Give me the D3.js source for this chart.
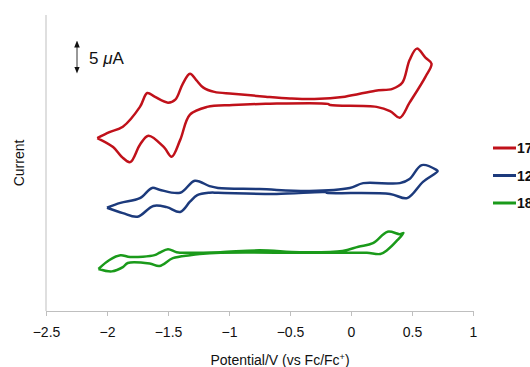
<!DOCTYPE html>
<html>
<head>
<meta charset="utf-8">
<script src="https://cdn.jsdelivr.net/npm/d3@7"></script>
<style>
  html, body { margin: 0; padding: 0; background: #fff; overflow: hidden; }
  svg { display: block; font-family: "Liberation Sans", Arial, sans-serif; }
</style>
</head>
<body>
<svg id="chart"></svg>
<script>
// potential (V vs Fc/Fc+) and current (uA, traces offset vertically)
const xTicks = [-2.5, -2, -1.5, -1, -0.5, 0, 0.5, 1];
const seriesNames = ["17", "12", "18"];
const seriesColors = ["#c0111a", "#1c3a7c", "#1a9a1a"];

const red = [
  [-2.08, 28.8], [-1.98, 29.8], [-1.87, 30.7], [-1.73, 34.0], [-1.67, 36.3],
  [-1.61, 35.7], [-1.5, 34.7], [-1.44, 35.2], [-1.38, 37.8], [-1.32, 39.5],
  [-1.27, 38.5], [-1.21, 37.2], [-1.12, 36.5], [-0.97, 36.2], [-0.7, 35.7],
  [-0.5, 35.4], [-0.3, 35.3], [-0.05, 35.7], [0.2, 36.7], [0.34, 37.0],
  [0.42, 38.0], [0.48, 41.8], [0.54, 43.7], [0.61, 42.2], [0.66, 41.2],
  [0.61, 39.0], [0.48, 34.7], [0.40, 32.2], [0.32, 33.3], [0.21, 34.0],
  [-0.17, 34.3], [-0.19, 34.5], [-0.7, 34.5], [-0.97, 34.3], [-1.18, 34.0],
  [-1.32, 32.7], [-1.40, 28.5], [-1.47, 25.7], [-1.53, 27.2], [-1.66, 29.2],
  [-1.73, 27.7], [-1.81, 24.8], [-1.88, 25.7], [-1.95, 27.3], [-2.08, 28.8]
];

const blue = [
  [-2.0, 17.2], [-1.89, 18.0], [-1.73, 18.8], [-1.63, 20.5], [-1.57, 20.2],
  [-1.4, 19.7], [-1.28, 21.7], [-1.16, 20.8], [-1.09, 20.5], [-0.75, 20.3],
  [-0.34, 20.0], [-0.01, 20.5], [0.1, 21.3], [0.4, 21.3], [0.48, 22.0],
  [0.58, 24.3], [0.7, 23.5], [0.71, 23.3],
  [0.59, 21.5], [0.46, 18.8], [0.32, 19.5], [-0.2, 19.7], [-0.21, 19.8],
  [-0.61, 19.5], [-1.09, 19.7], [-1.16, 19.7], [-1.26, 19.3], [-1.32, 18.2],
  [-1.4, 16.5], [-1.51, 17.3], [-1.62, 17.5], [-1.75, 15.7], [-1.87, 16.3],
  [-2.0, 17.2]
];

const green = [
  [-2.07, 7.0], [-1.98, 8.5], [-1.89, 9.3], [-1.81, 9.0], [-1.61, 9.3],
  [-1.57, 9.7], [-1.5, 10.3], [-1.43, 9.8], [-1.34, 9.7], [-1.07, 9.8],
  [-0.75, 10.1], [-0.42, 9.8], [-0.07, 10.0], [0.06, 10.7], [0.18, 11.3],
  [0.3, 13.2], [0.4, 12.8], [0.43, 13.0],
  [0.38, 11.8], [0.3, 10.2], [0.24, 9.5], [0.13, 9.7], [-0.07, 9.7],
  [-0.42, 9.7], [-1.07, 9.7], [-1.24, 9.5], [-1.32, 9.3], [-1.46, 8.8],
  [-1.57, 7.5], [-1.65, 7.9], [-1.83, 8.0], [-1.87, 7.3], [-1.96, 6.6],
  [-2.07, 7.0]
];

const series = [red, blue, green];

const width = 530, height = 367;
const svg = d3.select("#chart").attr("width", width).attr("height", height);

const x = d3.scaleLinear().domain([-2.5, 1]).range([46, 473]);
const y = d3.scaleLinear().domain([0, 49.3]).range([311, 15]);

// axes
const xAxis = svg.append("g")
  .attr("transform", `translate(0,${y(0)})`)
  .call(d3.axisBottom(x).tickValues(xTicks).tickSize(5).tickPadding(11)
    .tickFormat(d => String(d).replace("-", "\u2212")));
xAxis.selectAll("path, line").attr("stroke", "#bfbfbf");
xAxis.select(".domain").attr("d", `M${x(-2.5)},0.5H${x(1)}`);
xAxis.selectAll("text").attr("font-size", 14).attr("fill", "#111")
  .attr("font-family", "Liberation Sans, Arial, sans-serif");

svg.append("line")
  .attr("x1", x(-2.5)).attr("x2", x(-2.5))
  .attr("y1", y(49.3)).attr("y2", y(0))
  .attr("stroke", "#bfbfbf");

// axis titles
svg.append("text")
  .attr("x", 280).attr("y", 365)
  .attr("text-anchor", "middle").attr("font-size", 14).attr("fill", "#111")
  .html('Potential/V (vs Fc/Fc<tspan dy="-5" font-size="9">+</tspan><tspan dy="5">)</tspan>');

svg.append("text")
  .attr("transform", "translate(24,163) rotate(-90)")
  .attr("text-anchor", "middle").attr("font-size", 14).attr("fill", "#111")
  .text("Current");

// scale bar
svg.append("defs").append("marker")
  .attr("id", "tip").attr("viewBox", "0 0 10 10")
  .attr("refX", 5).attr("refY", 5)
  .attr("markerWidth", 7).attr("markerHeight", 7)
  .attr("orient", "auto-start-reverse")
  .append("path").attr("d", "M0,1L10,5L0,9Z").attr("fill", "#111");

svg.append("line")
  .attr("x1", 77).attr("x2", 77).attr("y1", 44).attr("y2", 70)
  .attr("stroke", "#333").attr("stroke-width", 1)
  .attr("marker-start", "url(#tip)").attr("marker-end", "url(#tip)");

svg.append("text")
  .attr("x", 89).attr("y", 64).attr("font-size", 17).attr("fill", "#111")
  .html('5 <tspan font-style="italic">\u03bc</tspan>A');

// traces
const line = d3.line()
  .x(d => x(d[0])).y(d => y(d[1]))
  .curve(d3.curveCatmullRom.alpha(0.5));

svg.selectAll(".trace")
  .data(series)
  .join("path")
  .attr("class", "trace")
  .attr("d", line)
  .attr("fill", "none")
  .attr("stroke", (d, i) => seriesColors[i])
  .attr("stroke-width", 2.5)
  .attr("stroke-linejoin", "round");

// legend (labels run off the right edge, as in the original)
const legend = svg.selectAll(".legend")
  .data(seriesNames)
  .join("g")
  .attr("class", "legend")
  .attr("transform", (d, i) => `translate(493,${148 + i * 27.5})`);

legend.append("line")
  .attr("x1", 0).attr("x2", 23)
  .attr("stroke", (d, i) => seriesColors[i]).attr("stroke-width", 3);

legend.append("text")
  .attr("x", 24).attr("y", 5)
  .attr("font-size", 14).attr("font-weight", "bold").attr("fill", "#111")
  .text(d => d);
</script>
</body>
</html>
